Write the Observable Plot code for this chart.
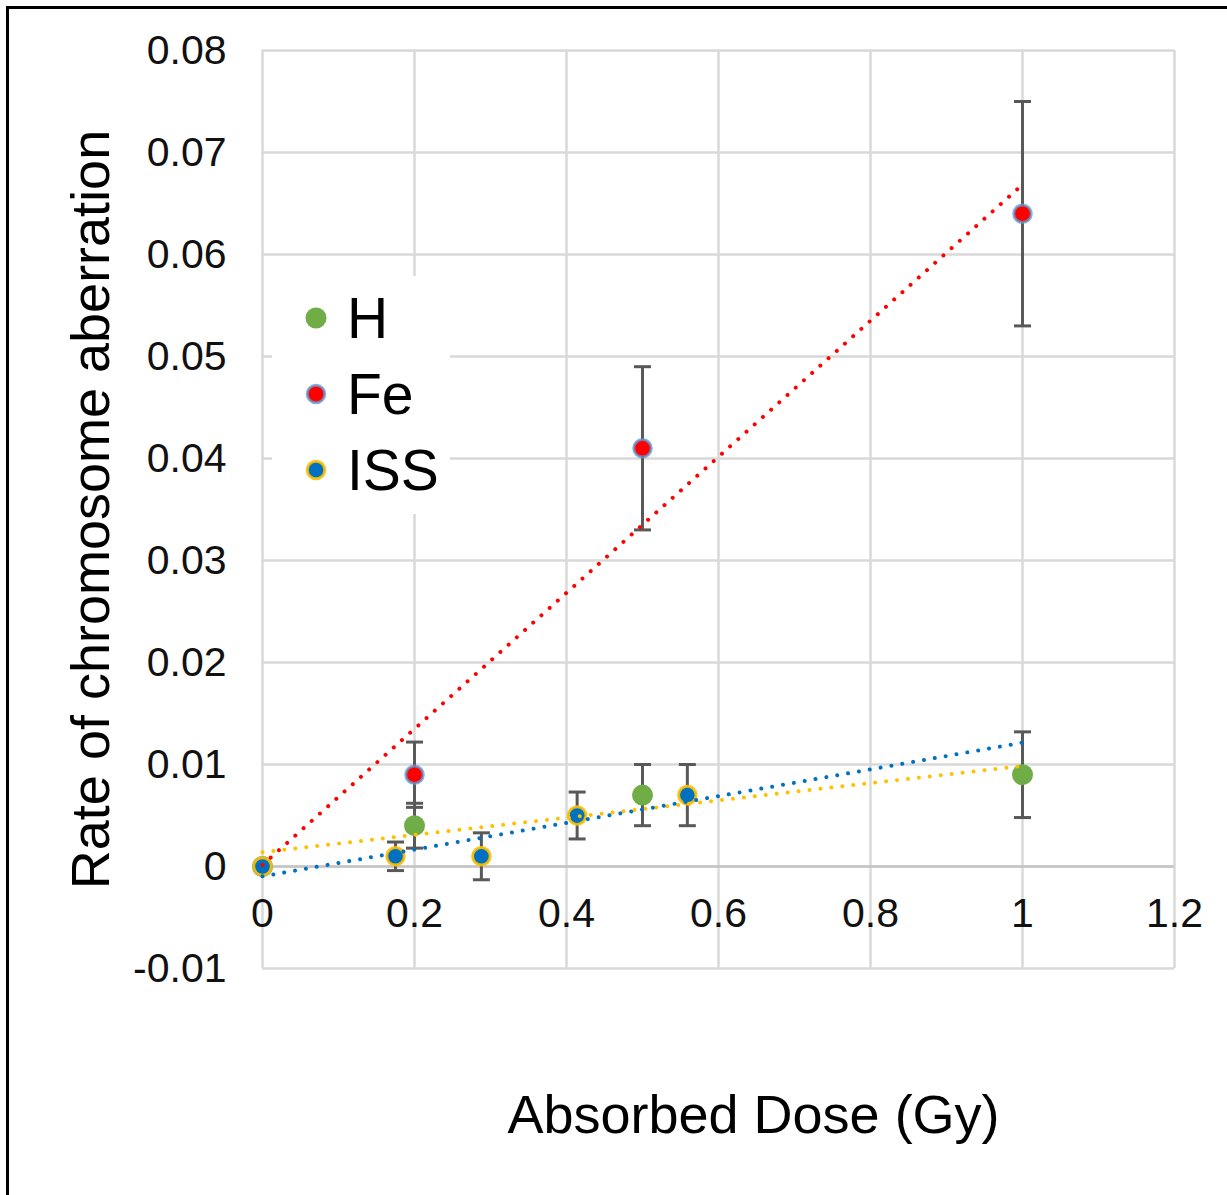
<!DOCTYPE html>
<html>
<head>
<meta charset="utf-8">
<script src="https://cdn.jsdelivr.net/npm/d3@7"></script>
<script src="https://cdn.jsdelivr.net/npm/@observablehq/plot@0.6"></script>
<style>
  html, body { margin: 0; padding: 0; background: #fff; overflow: hidden; }
  #wrap { position: relative; width: 1227px; height: 1195px; }
  #frame { position: absolute; left: 6px; top: 6px; width: 1400px; height: 1400px;
           border-left: 3px solid #000; border-top: 3px solid #000; pointer-events: none; }
  #legend { position: absolute; left: 272px; top: 276px; width: 178px; height: 238px; background: #fff; }
</style>
</head>
<body>
<div id="wrap"><div id="chart"></div><div id="legend"></div><div id="frame"></div></div>
<script>
// ---- data ----
const seriesNames = ["H", "Fe", "ISS"];
const hDose  = [0, 0.2, 0.5, 1];
const hRate  = [0, 0.004, 0.007, 0.009];
const hErr   = [0, 0.0022, 0.003, 0.0042];
const feDose = [0, 0.2, 0.5, 1];
const feRate = [0, 0.009, 0.041, 0.064];
const feErr  = [0, 0.0032, 0.008, 0.011];
const issDose = [0, 0.175, 0.288, 0.414, 0.559];
const issRate = [0, 0.001, 0.001, 0.005, 0.007];
const issErr  = [0, 0.0014, 0.0023, 0.0023, 0.003];
const xTicks = [0, 0.2, 0.4, 0.6, 0.8, 1, 1.2];
const yTicks = [-0.01, 0, 0.01, 0.02, 0.03, 0.04, 0.05, 0.06, 0.07, 0.08];
const xTitle = "Absorbed Dose (Gy)";
const yTitle = "Rate of chromosome aberration";

// ---- styles ----
const FONT = "'Liberation Sans', Arial, sans-serif";
const style = {
  H:   {fill: "#70AD47", stroke: "none", sw: 0, r: 10.5, trend: "#FFC000"},
  Fe:  {fill: "#FF0000", stroke: "#5B9BD5", sw: 3, r: 8.8, trend: "#FF0000"},
  ISS: {fill: "#0070C0", stroke: "#FFC000", sw: 3, r: 8.8, trend: "#0070C0"}
};
const rows = (name, xs, ys, es) => xs.map((x, i) => ({series: name, x, y: ys[i], err: es[i]}));
const H = rows("H", hDose, hRate, hErr);
const Fe = rows("Fe", feDose, feRate, feErr);
const ISS = rows("ISS", issDose, issRate, issErr);
const all = [...H, ...Fe, ...ISS];
const errRows = all.filter(d => d.err > 0);

function fit(data) {
  const mx = d3.mean(data, d => d.x), my = d3.mean(data, d => d.y);
  const b = d3.sum(data, d => (d.x - mx) * (d.y - my)) / d3.sum(data, d => (d.x - mx) ** 2);
  return {a: my - b * mx, b};
}
const span = d3.extent(all, d => d.x);
const trend = (data) => { const f = fit(data); return span.map(x => ({x, y: f.a + f.b * x})); };

const capSymbol = { draw(ctx) { ctx.moveTo(-8.5, 0); ctx.lineTo(8.5, 0); } };
const fmt = d => String(+d.toFixed(2));

const dotted = {strokeWidth: 4, strokeDasharray: "0.01 11", strokeLinecap: "round"};

const chart = Plot.plot({
  width: 1227, height: 1195,
  marginLeft: 262, marginRight: 53, marginTop: 50, marginBottom: 227,
  style: {fontFamily: FONT, background: "transparent"},
  x: {domain: [0, 1.2], axis: null},
  y: {domain: [-0.01, 0.08], axis: null},
  marks: [
    Plot.gridX(xTicks, {stroke: "#d9d9d9", strokeOpacity: 1, strokeWidth: 2.5}),
    Plot.gridY(yTicks, {stroke: "#d9d9d9", strokeOpacity: 1, strokeWidth: 2.5}),
    Plot.ruleY([0], {stroke: "#c4c4c4", strokeWidth: 2.5}),
    Plot.axisY(yTicks, {tickSize: 0, tickPadding: 36, fontSize: 41, tickFormat: fmt, label: null, fill: "#111"}),
    Plot.text(xTicks, {x: d => d, y: () => 0, dy: 47, text: fmt, fontSize: 41, fill: "#111", lineAnchor: "middle"}),
    Plot.text([yTitle], {frameAnchor: "left", textAnchor: "middle", lineAnchor: "middle", rotate: -90, dx: -171, fontSize: 54, fill: "#000"}),
    Plot.text([xTitle], {frameAnchor: "bottom", textAnchor: "middle", dx: 35, dy: 147, fontSize: 54, fill: "#000", lineAnchor: "middle"}),
    // error bars
    Plot.ruleX(errRows, {x: "x", y1: d => d.y - d.err, y2: d => d.y + d.err, stroke: "#595959", strokeWidth: 3}),
    Plot.dot(errRows, {x: "x", y: d => d.y + d.err, symbol: capSymbol, stroke: "#595959", strokeWidth: 3, fill: "none"}),
    Plot.dot(errRows, {x: "x", y: d => d.y - d.err, symbol: capSymbol, stroke: "#595959", strokeWidth: 3, fill: "none"}),
    // markers
    ...seriesNames.map(n => {
      const s = style[n];
      const data = n === "H" ? H : n === "Fe" ? Fe : ISS;
      return Plot.dot(data, {x: "x", y: "y", r: s.r, fill: s.fill, stroke: s.stroke, strokeWidth: s.sw, strokeOpacity: n === "Fe" ? 0.75 : 0.9});
    }),
    // trendlines
    Plot.line(trend(H), {x: "x", y: "y", stroke: style.H.trend, ...dotted}),
    Plot.line(trend(Fe), {x: "x", y: "y", stroke: style.Fe.trend, ...dotted}),
    Plot.line(trend(ISS), {x: "x", y: "y", stroke: style.ISS.trend, ...dotted})
  ]
});
document.getElementById("chart").appendChild(chart);

// legend
const lg = d3.select("#legend").append("svg").attr("width", 178).attr("height", 238)
  .style("font-family", FONT);
seriesNames.forEach((n, i) => {
  const s = style[n];
  const cy = 42 + i * 76;
  lg.append("circle").attr("cx", 44).attr("cy", cy).attr("r", s.r)
    .attr("fill", s.fill).attr("stroke", s.stroke).attr("stroke-width", s.sw)
    .attr("stroke-opacity", n === "Fe" ? 0.75 : 0.9);
  lg.append("text").attr("x", 75).attr("y", cy + 20).attr("font-size", 57).attr("fill", "#000").text(n);
});
</script>
</body>
</html>
